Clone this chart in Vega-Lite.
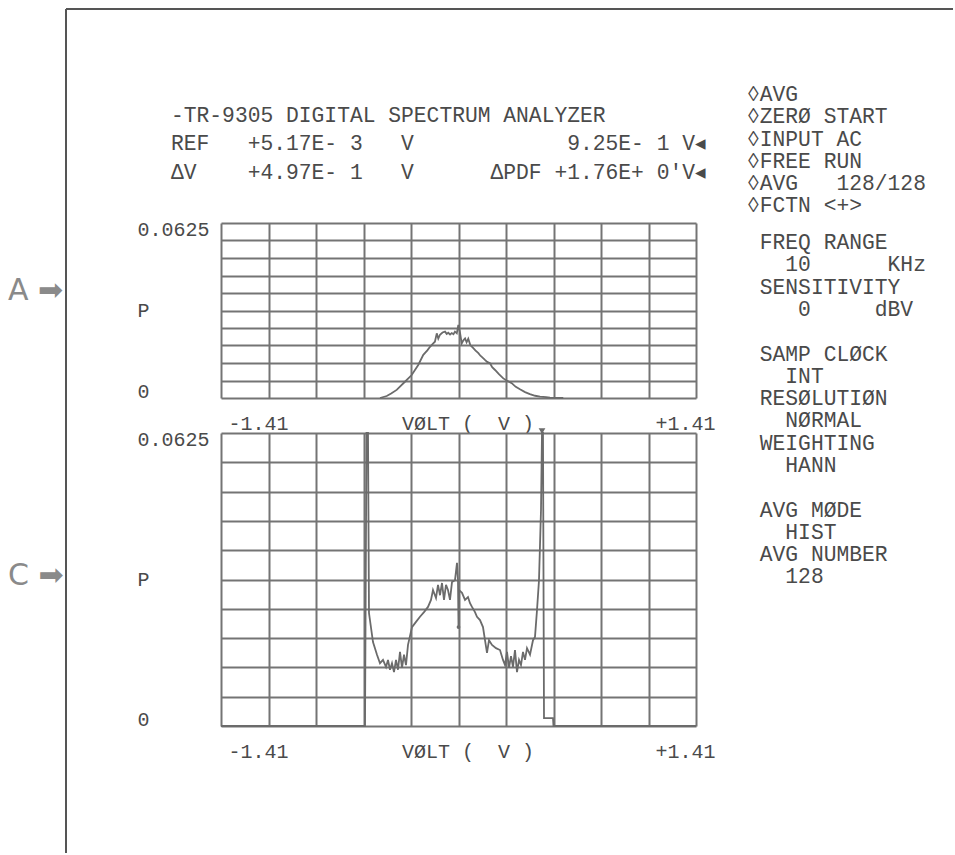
{
  "$schema": "https://vega.github.io/schema/vega-lite/v6.json",
  "background": "white",
  "padding": {"left": 8, "top": 8, "right": 0, "bottom": 0},
  "config": {
    "view": {"stroke": null},
    "font": "Liberation Mono",
    "axis": {"domain": false, "ticks": false, "tickSize": 0, "grid": true, "gridColor": "#747474", "gridWidth": 2, "gridOpacity": 1, "labelFont": "Liberation Mono", "labelFontSize": 20, "labelColor": "#4a4a4a", "titleFont": "Liberation Mono", "titleFontSize": 20, "titleFontWeight": "normal", "titleColor": "#4a4a4a", "labelFlush": false, "labelOverlap": false, "labelBound": false},
    "text": {"font": "Liberation Mono", "fontSize": 21.3, "color": "#4a4a4a"}
  },
  "datasets": {
    "histA": [
      {"volt": -0.466, "p": 0}, {"volt": -0.426, "p": 0.0007}, {"volt": -0.4, "p": 0.0016}, {"volt": -0.367, "p": 0.0029},
      {"volt": -0.318, "p": 0.0058}, {"volt": -0.278, "p": 0.0082}, {"volt": -0.239, "p": 0.0118}, {"volt": -0.209, "p": 0.0154},
      {"volt": -0.185, "p": 0.017}, {"volt": -0.169, "p": 0.0183}, {"volt": -0.15, "p": 0.0195}, {"volt": -0.14, "p": 0.0201},
      {"volt": -0.129, "p": 0.0231}, {"volt": -0.12, "p": 0.0212}, {"volt": -0.11, "p": 0.0226}, {"volt": -0.095, "p": 0.0234},
      {"volt": -0.08, "p": 0.0237}, {"volt": -0.07, "p": 0.0229}, {"volt": -0.061, "p": 0.0233}, {"volt": -0.05, "p": 0.0227},
      {"volt": -0.04, "p": 0.0232}, {"volt": -0.03, "p": 0.0228}, {"volt": -0.021, "p": 0.0237}, {"volt": -0.01, "p": 0.0231},
      {"volt": -0.001, "p": 0.0261}, {"volt": 0.009, "p": 0.0233}, {"volt": 0.019, "p": 0.0195}, {"volt": 0.029, "p": 0.0206},
      {"volt": 0.039, "p": 0.0213}, {"volt": 0.048, "p": 0.0199}, {"volt": 0.058, "p": 0.0212}, {"volt": 0.07, "p": 0.0189},
      {"volt": 0.088, "p": 0.0178}, {"volt": 0.1, "p": 0.017}, {"volt": 0.118, "p": 0.016}, {"volt": 0.13, "p": 0.0151},
      {"volt": 0.14, "p": 0.0146}, {"volt": 0.157, "p": 0.0136}, {"volt": 0.17, "p": 0.0129}, {"volt": 0.187, "p": 0.0124},
      {"volt": 0.2, "p": 0.011}, {"volt": 0.217, "p": 0.01}, {"volt": 0.24, "p": 0.0085}, {"volt": 0.266, "p": 0.007},
      {"volt": 0.29, "p": 0.0061}, {"volt": 0.316, "p": 0.0053}, {"volt": 0.34, "p": 0.004}, {"volt": 0.365, "p": 0.0031},
      {"volt": 0.395, "p": 0.0021}, {"volt": 0.424, "p": 0.0014}, {"volt": 0.455, "p": 0.0008}, {"volt": 0.484, "p": 0.0005},
      {"volt": 0.52, "p": 0.0003}, {"volt": 0.543, "p": 0.0001}, {"volt": 0.622, "p": 0}
    ],
    "histC": [
      {"volt": -1.41, "p": 0}, {"volt": -0.5551, "p": 0}, {"volt": -0.5462, "p": 0.0625}, {"volt": -0.5373, "p": 0.0625},
      {"volt": -0.5314, "p": 0.0241}, {"volt": -0.5076, "p": 0.0179}, {"volt": -0.4839, "p": 0.0152}, {"volt": -0.4661, "p": 0.0134},
      {"volt": -0.4482, "p": 0.0141}, {"volt": -0.4304, "p": 0.0126}, {"volt": -0.4186, "p": 0.0141}, {"volt": -0.4067, "p": 0.012},
      {"volt": -0.3948, "p": 0.0134}, {"volt": -0.3829, "p": 0.0115}, {"volt": -0.3711, "p": 0.0141}, {"volt": -0.3592, "p": 0.012},
      {"volt": -0.3473, "p": 0.0158}, {"volt": -0.3354, "p": 0.0124}, {"volt": -0.3236, "p": 0.0152}, {"volt": -0.3117, "p": 0.013},
      {"volt": -0.2998, "p": 0.0173}, {"volt": -0.2761, "p": 0.0211}, {"volt": -0.2523, "p": 0.0222}, {"volt": -0.2286, "p": 0.0233},
      {"volt": -0.2048, "p": 0.0243}, {"volt": -0.1811, "p": 0.0254}, {"volt": -0.1633, "p": 0.0269}, {"volt": -0.1514, "p": 0.029},
      {"volt": -0.1336, "p": 0.0273}, {"volt": -0.1217, "p": 0.0301}, {"volt": -0.1098, "p": 0.0279}, {"volt": -0.098, "p": 0.0305},
      {"volt": -0.0861, "p": 0.0269}, {"volt": -0.0742, "p": 0.0301}, {"volt": -0.0624, "p": 0.029}, {"volt": -0.0505, "p": 0.0269},
      {"volt": -0.0386, "p": 0.0307}, {"volt": -0.0208, "p": 0.0311}, {"volt": -0.0089, "p": 0.0348}, {"volt": -0.003, "p": 0.0311},
      {"volt": 0.0, "p": 0.0211}, {"volt": 0.003, "p": 0.029}, {"volt": 0.0208, "p": 0.0284}, {"volt": 0.0386, "p": 0.0269},
      {"volt": 0.0564, "p": 0.0275}, {"volt": 0.0683, "p": 0.0262}, {"volt": 0.0801, "p": 0.0254}, {"volt": 0.0979, "p": 0.0243},
      {"volt": 0.1098, "p": 0.0233}, {"volt": 0.1276, "p": 0.0226}, {"volt": 0.1454, "p": 0.0211}, {"volt": 0.1573, "p": 0.0183},
      {"volt": 0.1692, "p": 0.0156}, {"volt": 0.1811, "p": 0.0183}, {"volt": 0.1989, "p": 0.0173}, {"volt": 0.2226, "p": 0.0166},
      {"volt": 0.2464, "p": 0.0162}, {"volt": 0.2642, "p": 0.0141}, {"volt": 0.2761, "p": 0.013}, {"volt": 0.2879, "p": 0.0158},
      {"volt": 0.2998, "p": 0.0124}, {"volt": 0.3117, "p": 0.0149}, {"volt": 0.3235, "p": 0.0126}, {"volt": 0.3354, "p": 0.0162},
      {"volt": 0.3473, "p": 0.0115}, {"volt": 0.3592, "p": 0.0141}, {"volt": 0.371, "p": 0.013}, {"volt": 0.3829, "p": 0.0158},
      {"volt": 0.3948, "p": 0.0141}, {"volt": 0.4067, "p": 0.0166}, {"volt": 0.4245, "p": 0.0152}, {"volt": 0.4423, "p": 0.0183},
      {"volt": 0.4542, "p": 0.019}, {"volt": 0.466, "p": 0.0247}, {"volt": 0.4779, "p": 0.0311}, {"volt": 0.4898, "p": 0.0461},
      {"volt": 0.4957, "p": 0.0625}, {"volt": 0.5016, "p": 0.0625}, {"volt": 0.5076, "p": 0.0017}, {"volt": 0.561, "p": 0.0017},
      {"volt": 0.564, "p": 0}, {"volt": 1.41, "p": 0}
    ]
  },
  "vconcat": [
    {
      "width": 475, "height": 87,
      "layer": [
        {
          "data": {"values": [{"text": "-TR-9305\u00a0DIGITAL\u00a0SPECTRUM\u00a0ANALYZER\nREF\u00a0\u00a0\u00a0+5.17E-\u00a03\u00a0\u00a0\u00a0V\u00a0\u00a0\u00a0\u00a0\u00a0\u00a0\u00a0\u00a0\u00a0\u00a0\u00a0\u00a09.25E-\u00a01\u00a0V◂\nΔV\u00a0\u00a0\u00a0\u00a0+4.97E-\u00a01\u00a0\u00a0\u00a0V\u00a0\u00a0\u00a0\u00a0\u00a0\u00a0ΔPDF\u00a0+1.76E+\u00a00'V◂"}]},
          "mark": {"type": "text", "align": "left", "baseline": "middle", "lineBreak": "\n", "lineHeight": 28.5},
          "encoding": {
            "x": {"datum": -0.10526, "type": "quantitative", "scale": {"domain": [0, 1]}, "axis": null},
            "y": {"datum": 2.5, "type": "quantitative", "scale": {"domain": [0, 3]}, "axis": null},
            "text": {"field": "text"}
          }
        },
        {
          "data": {"values": [{"text": "◊AVG\n◊ZERØ\u00a0START\n◊INPUT\u00a0AC\n◊FREE\u00a0RUN\n◊AVG\u00a0\u00a0\u00a0128/128\n◊FCTN\u00a0<+>"}]},
          "mark": {"type": "text", "align": "left", "baseline": "middle", "lineBreak": "\n", "lineHeight": 22.3},
          "encoding": {
            "x": {"datum": 1.10737, "type": "quantitative", "scale": {"domain": [0, 1]}, "axis": null},
            "y": {"datum": 3.2069, "type": "quantitative", "scale": {"domain": [0, 3]}, "axis": null},
            "text": {"field": "text"}
          }
        },
        {
          "data": {"values": [{"text": "\u200b\u00a0FREQ\u00a0RANGE\n\u200b\u00a0\u00a0\u00a010\u00a0\u00a0\u00a0\u00a0\u00a0\u00a0KHz\n\u200b\u00a0SENSITIVITY\n\u200b\u00a0\u00a0\u00a0\u00a00\u00a0\u00a0\u00a0\u00a0\u00a0dBV"}]},
          "mark": {"type": "text", "align": "left", "baseline": "middle", "lineBreak": "\n", "lineHeight": 22.3},
          "encoding": {
            "x": {"datum": 1.10737, "type": "quantitative", "scale": {"domain": [0, 1]}, "axis": null},
            "y": {"datum": -1.8966, "type": "quantitative", "scale": {"domain": [0, 3]}, "axis": null},
            "text": {"field": "text"}
          }
        },
        {
          "data": {"values": [{"text": "\u200b\u00a0SAMP\u00a0CLØCK\n\u200b\u00a0\u00a0\u00a0INT\n\u200b\u00a0RESØLUTIØN\n\u200b\u00a0\u00a0\u00a0NØRMAL\n\u200b\u00a0WEIGHTING\n\u200b\u00a0\u00a0\u00a0HANN"}]},
          "mark": {"type": "text", "align": "left", "baseline": "middle", "lineBreak": "\n", "lineHeight": 22.3},
          "encoding": {
            "x": {"datum": 1.10737, "type": "quantitative", "scale": {"domain": [0, 1]}, "axis": null},
            "y": {"datum": -5.7414, "type": "quantitative", "scale": {"domain": [0, 3]}, "axis": null},
            "text": {"field": "text"}
          }
        },
        {
          "data": {"values": [{"text": "\u200b\u00a0AVG\u00a0MØDE\n\u200b\u00a0\u00a0\u00a0HIST\n\u200b\u00a0AVG\u00a0NUMBER\n\u200b\u00a0\u00a0\u00a0128"}]},
          "mark": {"type": "text", "align": "left", "baseline": "middle", "lineBreak": "\n", "lineHeight": 22.3},
          "encoding": {
            "x": {"datum": 1.10737, "type": "quantitative", "scale": {"domain": [0, 1]}, "axis": null},
            "y": {"datum": -11.1241, "type": "quantitative", "scale": {"domain": [0, 3]}, "axis": null},
            "text": {"field": "text"}
          }
        }
      ]
    },
    {
      "width": 475, "height": 175,
      "resolve": {"axis": {"x": "independent", "y": "independent"}},
      "layer": [
        {
          "data": {"name": "histA"},
          "mark": {"type": "line", "color": "#6b6b6b", "strokeWidth": 1.8},
          "encoding": {
            "x": {"field": "volt", "type": "quantitative", "scale": {"domain": [-1.41, 1.41], "nice": false, "zero": false},
              "axis": {"values": [-1.41, -1.128, -0.846, -0.564, -0.282, 0, 0.282, 0.564, 0.846, 1.128, 1.41],
                "labelExpr": "datum.value < -1.4 ? '-1.41' : (datum.value > 1.4 ? '+1.41' : '')",
                "labelAlign": {"condition": {"test": "datum.value < 0", "value": "left"}, "value": "right"},
                "labelOffset": {"condition": {"test": "datum.value < 0", "value": 7}, "value": 19},
                "labelPadding": 25, "labelBaseline": "middle",
                "title": "VØLT (\u00a0\u00a0V\u00a0)", "titleX": 246.5, "titleY": 25, "titleAlign": "center", "titleBaseline": "middle"}},
            "y": {"field": "p", "type": "quantitative", "scale": {"domain": [0, 0.0625], "nice": false},
              "axis": {"values": [0, 0.00625, 0.0125, 0.01875, 0.025, 0.03125, 0.0375, 0.04375, 0.05, 0.05625, 0.0625],
                "labelExpr": "datum.value == 0 ? '0' : (datum.value > 0.062 ? '0.0625' : '')",
                "labelAlign": "left", "labelPadding": 84, "labelBaseline": "middle",
                "labelOffset": {"condition": {"test": "datum.value > 0.03", "value": 6}, "value": -7},
                "title": "P", "titleAngle": 0, "titleX": -84, "titleY": 87.5, "titleAlign": "left", "titleBaseline": "middle"}}
          }
        },
        {
          "data": {"values": [{"label": "A ➡"}]},
          "mark": {"type": "text", "font": "DejaVu Sans", "fontSize": 30, "color": "#8a8a8a", "align": "left", "baseline": "middle"},
          "encoding": {"x": {"datum": -2.6745, "axis": null}, "y": {"datum": 0.0382, "axis": null}, "text": {"field": "label"}}
        }
      ]
    },
    {
      "width": 475, "height": 293,
      "resolve": {"axis": {"x": "independent", "y": "independent"}},
      "layer": [
        {
          "data": {"name": "histC"},
          "mark": {"type": "line", "color": "#6b6b6b", "strokeWidth": 1.8},
          "encoding": {
            "x": {"field": "volt", "type": "quantitative", "scale": {"domain": [-1.41, 1.41], "nice": false, "zero": false},
              "axis": {"values": [-1.41, -1.128, -0.846, -0.564, -0.282, 0, 0.282, 0.564, 0.846, 1.128, 1.41],
                "labelExpr": "datum.value < -1.4 ? '-1.41' : (datum.value > 1.4 ? '+1.41' : '')",
                "labelAlign": {"condition": {"test": "datum.value < 0", "value": "left"}, "value": "right"},
                "labelOffset": {"condition": {"test": "datum.value < 0", "value": 7}, "value": 19},
                "labelPadding": 25, "labelBaseline": "middle",
                "title": "VØLT (\u00a0\u00a0V\u00a0)", "titleX": 246.5, "titleY": 25, "titleAlign": "center", "titleBaseline": "middle"}},
            "y": {"field": "p", "type": "quantitative", "scale": {"domain": [0, 0.0625], "nice": false},
              "axis": {"values": [0, 0.00625, 0.0125, 0.01875, 0.025, 0.03125, 0.0375, 0.04375, 0.05, 0.05625, 0.0625],
                "labelExpr": "datum.value == 0 ? '0' : (datum.value > 0.062 ? '0.0625' : '')",
                "labelAlign": "left", "labelPadding": 84, "labelBaseline": "middle",
                "labelOffset": {"condition": {"test": "datum.value > 0.03", "value": 6}, "value": -7},
                "title": "P", "titleAngle": 0, "titleX": -84, "titleY": 146.5, "titleAlign": "left", "titleBaseline": "middle"}}
          }
        },
        {
          "data": {"values": [{"volt": 0.4957, "p": 0.0629}]},
          "mark": {"type": "point", "shape": "triangle-down", "size": 45, "filled": true, "color": "#6b6b6b", "opacity": 1},
          "encoding": {"x": {"field": "volt", "type": "quantitative", "axis": null}, "y": {"field": "p", "type": "quantitative", "axis": null}}
        },
        {
          "data": {"values": [{"volt": 0.0, "p": 0.0211}]},
          "mark": {"type": "point", "shape": "circle", "size": 14, "filled": true, "color": "#6b6b6b", "opacity": 1},
          "encoding": {"x": {"field": "volt", "type": "quantitative", "axis": null}, "y": {"field": "p", "type": "quantitative", "axis": null}}
        },
        {
          "data": {"values": [{"label": "C ➡"}]},
          "mark": {"type": "text", "font": "DejaVu Sans", "fontSize": 30, "color": "#8a8a8a", "align": "left", "baseline": "middle"},
          "encoding": {"x": {"datum": -2.6745, "axis": null}, "y": {"datum": 0.032, "axis": null}, "text": {"field": "label"}}
        },
        {
          "data": {"values": [{}]},
          "mark": {"type": "rule", "color": "#555555", "strokeWidth": 2},
          "encoding": {"x": {"datum": -2.3302, "axis": null}, "y": {"datum": 0.15294, "axis": null}, "y2": {"datum": -0.02709}}
        },
        {
          "data": {"values": [{}]},
          "mark": {"type": "rule", "color": "#555555", "strokeWidth": 2},
          "encoding": {"x": {"datum": -2.3302, "axis": null}, "x2": {"datum": 2.9358}, "y": {"datum": 0.15294, "axis": null}}
        }
      ]
    }
  ],
  "spacing": 35,
  "bounds": "flush"
}
